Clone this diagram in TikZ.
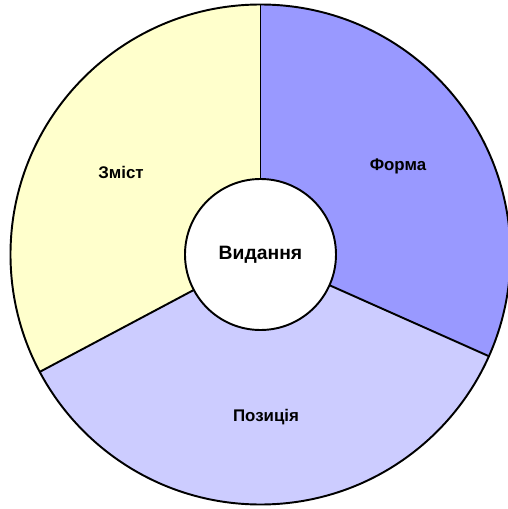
\documentclass[tikz,border=0pt]{standalone}
\usepackage{fontspec}
\setmainfont{Liberation Sans}
\definecolor{zmyellow}{RGB}{255,255,204}
\definecolor{fmblue}{RGB}{153,153,255}
\definecolor{pzlilac}{RGB}{204,204,255}

\begin{document}
\begin{tikzpicture}[line width=1.1pt,
    seclabel/.style={font=\fontsize{9.6}{11}\selectfont\bfseries}]
  \useasboundingbox (-5.21,-5.09) rectangle (4.95,5.09);
  \coordinate (O) at (0,0);
  \coordinate (A) at (90:5);
  \coordinate (B) at (-24:5);
  \coordinate (C) at (208:5);
  % sectors
  \fill[fmblue] (O) -- (A) arc[start angle=90,end angle=-24,radius=5] -- cycle;
  \fill[pzlilac] (O) -- (B) arc[start angle=-24,end angle=-152,radius=5] -- cycle;
  \fill[zmyellow] (O) -- (C) arc[start angle=208,end angle=90,radius=5] -- cycle;
  \draw (O) -- (A);
  \draw (O) -- (B);
  \draw (O) -- (C);
  \draw (O) circle[radius=5];
  \node[circle,draw,fill=white,minimum size=3.02cm,inner sep=0pt,
    font=\fontsize{11}{13}\selectfont\bfseries] (hub) at (O) {Видання};
  \node[seclabel] (forma) at (2.75,1.77) {Форма};
  \node[seclabel] (zmist) at (-2.79,1.65) {Зміст};
  \node[seclabel] (pozytsiia) at (0.11,-3.25) {Позиція};
\end{tikzpicture}
\end{document}
